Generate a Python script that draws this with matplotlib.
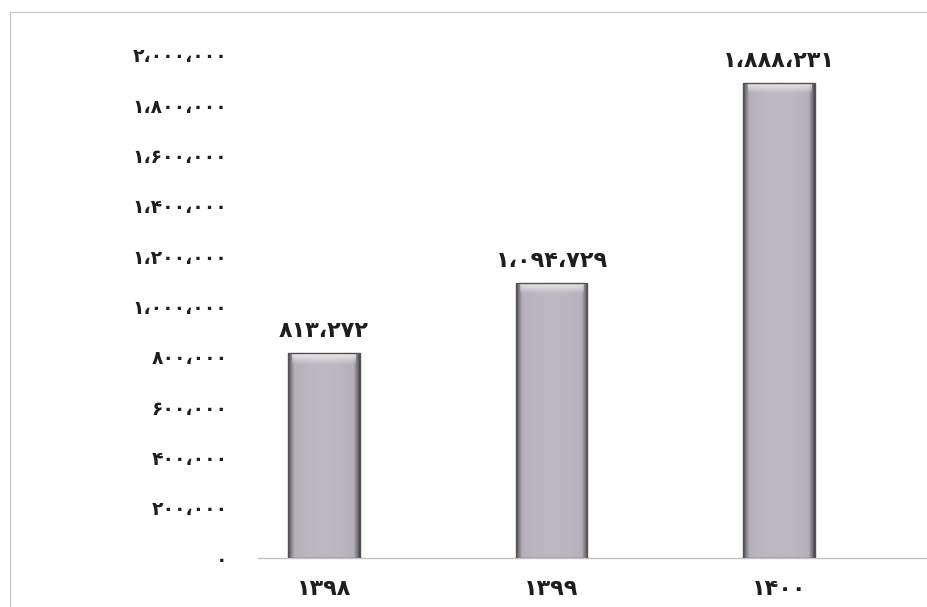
import numpy as np
import matplotlib
matplotlib.use("Agg")
import matplotlib.pyplot as plt
from matplotlib.patches import Rectangle

years = ["۱۳۹۸", "۱۳۹۹", "۱۴۰۰"]
values = [813272, 1094729, 1888231]
yticks = [0, 200000, 400000, 600000, 800000, 1000000,
          1200000, 1400000, 1600000, 1800000, 2000000]

FA = str.maketrans("0123456789,", "۰۱۲۳۴۵۶۷۸۹،")


def fa(n):
    return f"{n:,}".translate(FA)


plt.rcParams["font.family"] = ["DejaVu Sans"]
fig = plt.figure(figsize=(9.27, 6.07), dpi=100)
# outer frame of the scanned chart
fig.patches.append(Rectangle((10 / 927, -0.01), 1.0, 1 - 12 / 607 + 0.01,
                             transform=fig.transFigure, fill=False,
                             ec="#c4c4c4", lw=0.8))
ax = fig.add_axes([258 / 927, 1 - 558 / 607, 1 - 258 / 927, (558 - 55) / 607])

x = np.arange(len(years))
bars = ax.bar(x, values, width=0.315, color="none", edgecolor="#555058", lw=1.0, zorder=3)

# bar fill: light mauve grey, dark narrow sides
t = np.linspace(-1, 1, 80)
prof = 1 - 0.55 * np.clip((np.abs(t) - 0.82) / 0.18, 0, 1) ** 1.3 - 0.06 * t ** 2
base = np.array([0.74, 0.72, 0.76])
body = np.tile((prof[:, None] * base)[None, :, :], (2, 1, 1))
top = np.zeros((30, 2, 4))
top[..., :3] = 1.0
top[..., 3] = np.linspace(0.75, 0.0, 30)[:, None]
for b in bars:
    x0, w, h = b.get_x(), b.get_width(), b.get_height()
    im = ax.imshow(body, aspect="auto", extent=(x0, x0 + w, 0, h),
                   zorder=2, interpolation="bilinear")
    im.set_clip_path(b)
    ax.imshow(top, aspect="auto", extent=(x0 + w * 0.06, x0 + w * 0.94, h - 45000, h),
              zorder=2.5, interpolation="bilinear")
    ax.text(x0 + w / 2, h + 48000, fa(int(h)), ha="center", va="bottom",
            fontsize=16, fontweight="bold", color="#1e1e1e")

ax.set_xlim(-0.29, 2.65)
ax.set_ylim(0, 2000000)
ax.set_yticks(yticks)
ax.set_yticklabels([fa(v) for v in yticks], fontsize=13.5, fontweight="bold", color="#1e1e1e")
ax.set_xticks(x)
ax.set_xticklabels(years, fontsize=16, fontweight="bold", color="#1e1e1e")
ax.tick_params(axis="y", length=0, pad=22)
ax.tick_params(axis="x", length=0, pad=15)
for s in ("top", "right", "left"):
    ax.spines[s].set_visible(False)
ax.spines["bottom"].set_color("#c4c4c4")
ax.spines["bottom"].set_linewidth(1.0)

fig.savefig("out.png", dpi=100)
